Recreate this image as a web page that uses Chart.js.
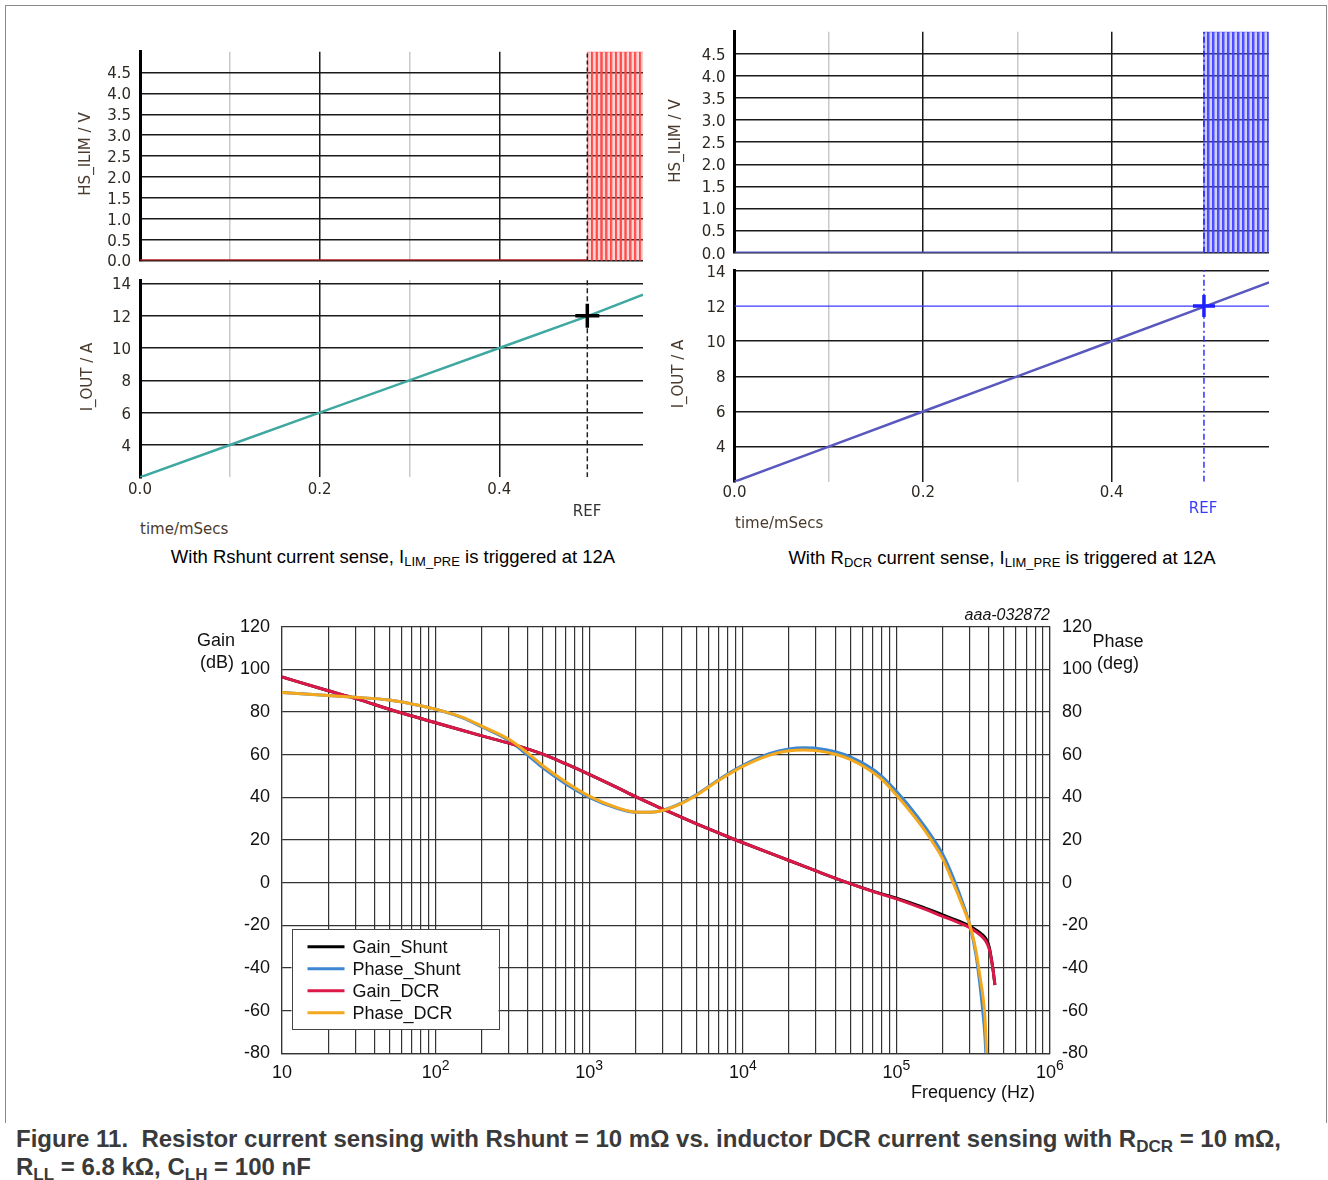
<!DOCTYPE html>
<html>
<head>
<meta charset="utf-8">
<title>Current sensing comparison</title>
<script src="https://cdn.jsdelivr.net/npm/chart.js@4.4.1/dist/chart.umd.min.js"></script>
<style>
  body { margin: 0; background: #fff; }
  #page { position: relative; width: 1328px; height: 1180px; overflow: hidden; background: #fff; }
  #page canvas { position: absolute; }
  .frame { position: absolute; left: 5px; top: 5px; width: 1320px; height: 1117px;
           border: 1px solid #8a8a8a; border-bottom: none; }
  .t { position: absolute; white-space: nowrap; transform: translate(-50%, -50%); }
  .sim { font-family: "DejaVu Sans", Verdana, sans-serif; font-size: 15px; color: #4a3b2e; }
  .rot { transform: translate(-50%, -50%) rotate(-90deg); }
  .arial { font-family: "Liberation Sans", Arial, sans-serif; color: #111; font-size: 18px; }
  .cap { font-size: 18.5px; color: #000; }
  .cap sub { font-size: 13px; vertical-align: -3px; line-height: 0; }
  .fig { position: absolute; left: 16px; top: 1125px; white-space: nowrap; line-height: 28px;
         font: bold 24px "Liberation Sans", Arial, sans-serif; color: #3a3a3a; }
  .fig sub { font-size: 17px; vertical-align: -5px; line-height: 0; }
</style>
</head>
<body>
<div id="page">
  <div class="frame"></div>

  <canvas id="hsShunt"></canvas>
  <canvas id="ioShunt"></canvas>
  <canvas id="hsDcr"></canvas>
  <canvas id="ioDcr"></canvas>
  <canvas id="bode"></canvas>

  <!-- transient plot labels -->
  <div class="t sim rot" style="left:85px; top:154px">HS_ILIM / V</div>
  <div class="t sim rot" style="left:87px; top:377px">I_OUT / A</div>
  <div class="t sim" style="left:587px; top:511px; color:#333">REF</div>
  <div class="t sim" style="left:140px; top:529px; transform:translate(0,-50%)">time/mSecs</div>
  <div class="t arial cap" style="left:393px; top:557px">With Rshunt current sense, I<sub>LIM_PRE</sub> is triggered at 12A</div>

  <div class="t sim rot" style="left:675px; top:141px">HS_ILIM / V</div>
  <div class="t sim rot" style="left:678px; top:374px">I_OUT / A</div>
  <div class="t sim" style="left:1203px; top:508px; color:#3a3aff">REF</div>
  <div class="t sim" style="left:735px; top:523px; transform:translate(0,-50%)">time/mSecs</div>
  <div class="t arial cap" style="left:1002px; top:558px">With R<sub>DCR</sub> current sense, I<sub>LIM_PRE</sub> is triggered at 12A</div>

  <!-- bode plot labels -->
  <div class="t arial" style="left:216px; top:640px">Gain</div>
  <div class="t arial" style="left:217px; top:662px">(dB)</div>
  <div class="t arial" style="left:1118px; top:641px">Phase</div>
  <div class="t arial" style="left:1118px; top:663px">(deg)</div>
  <div class="t arial" style="left:1050px; top:615px; transform:translate(-100%,-50%); font-style:italic; font-size:16px">aaa-032872</div>
  <div class="t arial" style="left:973px; top:1092px">Frequency (Hz)</div>

  <div class="fig">Figure 11.&nbsp; Resistor current sensing with Rshunt = 10 mΩ vs. inductor DCR current sensing with R<sub>DCR</sub> = 10 mΩ,<br>R<sub>LL</sub> = 6.8 kΩ, C<sub>LH</sub> = 100 nF</div>
</div>

<script>
// ---- transient data (time in ms) ----
const timeTicks = [0, 0.1, 0.2, 0.3, 0.4];
const timeTickLabels = ['0.0', '', '0.2', '', '0.4'];
const refTime = 0.498;

const hsTicks = [0, 0.5, 1, 1.5, 2, 2.5, 3, 3.5, 4, 4.5];
const hsHigh = 5.0;
// HS_ILIM pulses once the limit trips
const hsShuntRise = [0.4985, 0.5039, 0.5092, 0.5146, 0.5199, 0.5253, 0.5306, 0.5360, 0.5413, 0.5467, 0.5520, 0.5574];
const hsShuntFall = [0.5027, 0.5081, 0.5134, 0.5188, 0.5241, 0.5295, 0.5348, 0.5402, 0.5455, 0.5509, 0.5562, 0.5616];
const hsDcrRise = [0.4980, 0.5033, 0.5086, 0.5139, 0.5192, 0.5245, 0.5298, 0.5351, 0.5404, 0.5457, 0.5510, 0.5563, 0.5616];
const hsDcrFall = [0.5022, 0.5075, 0.5128, 0.5181, 0.5234, 0.5287, 0.5340, 0.5393, 0.5446, 0.5499, 0.5552, 0.5605, 0.5658];

const ioutTicks = [2, 4, 6, 8, 10, 12, 14];
const tripCurrent = 12;
const rampTimeShunt = [0, 0.1, 0.2, 0.3, 0.4, 0.5, 0.56];
const ioutShunt = [2, 4, 6, 8, 10, 12, 13.3];
const rampTimeDcr = [0, 0.1, 0.2, 0.3, 0.4, 0.5, 0.567];
const ioutDcr = [2, 4, 6, 8, 10, 12, 13.35];

// ---- loop response ----
const gainFreq = [10, 20, 30, 57, 100, 200, 300, 508, 700, 1000, 1500, 2000, 3000, 5000, 7000, 9000,
                  1.5e4, 2e4, 3e4, 4.8e4, 7e4, 1e5, 1.5e5, 2e5, 2.5e5, 2.9e5, 3.3e5, 3.6e5, 3.8e5, 3.95e5,
                  4.05e5, 4.15e5, 4.25e5, 4.38e5];
const gainShunt = [96.4, 90.0, 86.4, 80.0, 75.0, 68.8, 65.4, 60.0, 55.8, 50.8, 44.8, 40.3, 34.6, 27.6, 23.2, 20.0,
                   13.8, 10.4, 5.5, 0.0, -4.0, -7.3, -11.6, -15.1, -17.8, -19.8, -22.2, -24.2, -26.0, -28.4,
                   -31.2, -35.6, -40.5, -48.0];
const gainDcr = [96.4, 90.0, 86.4, 80.0, 75.0, 68.8, 65.4, 60.0, 55.8, 50.8, 44.8, 40.3, 34.6, 27.6, 23.2, 20.0,
                 13.8, 10.4, 5.5, 0.0, -4.1, -7.6, -12.2, -15.8, -18.5, -20.5, -23.0, -25.2, -27.2, -29.5,
                 -32.0, -36.0, -40.5, -48.0];
const phaseFreq = [10, 20, 30, 50, 70, 100, 150, 200, 300, 400, 500, 700, 1000, 1500, 2000, 2500, 3000, 4000, 5000, 7000,
                   1e4, 1.5e4, 2e4, 2.5e4, 3e4, 4e4, 5e4, 6.4e4, 8e4, 1e5, 1.36e5, 1.74e5, 2.04e5, 2.34e5, 2.65e5,
                   3.01e5, 3.3e5, 3.5e5, 3.67e5, 3.77e5, 3.87e5];
const phaseShunt = [89.2, 87.7, 86.9, 85.6, 83.8, 81.3, 77.3, 73.0, 66.6, 59.6, 53.8, 46.4, 40.0, 35.0, 33.0, 33.0, 33.9, 37.4, 41.3, 48.4,
                    55.0, 60.6, 62.7, 63.2, 63.0, 61.4, 59.0, 55.0, 50.0, 42.8, 31.3, 20.5, 12.2, 2.5, -7.8,
                    -20.0, -34.0, -48.0, -62.0, -72.0, -88.0];
const phaseDcr = [89.2, 87.7, 86.9, 85.6, 83.8, 81.3, 77.5, 73.4, 67.2, 60.6, 54.8, 47.3, 40.6, 35.3, 33.1, 33.0, 33.8, 37.2, 41.0, 48.0,
                  54.5, 59.8, 61.8, 62.2, 61.9, 60.2, 57.8, 53.6, 48.5, 41.1, 29.4, 18.5, 10.0, 0.0, -9.5,
                  -20.0, -32.0, -44.0, -54.0, -62.8, -80.0];
const bodeTicks = [-80, -60, -40, -20, 0, 20, 40, 60, 80, 100, 120];
const decadeTicks = [10, 100, 1e3, 1e4, 1e5, 1e6];
const decadeExps = ['', '2', '3', '4', '5', '6'];

// ---- helpers ----
const simFont = { family: '"DejaVu Sans", Verdana, sans-serif', size: 15 };
const simTickColor = '#2e2822';
const xy = (xs, ys) => xs.map((x, i) => ({ x, y: ys[i] }));

function pulseTrace(rises, falls, high) {
  const pts = [];
  rises.forEach((r, i) => {
    pts.push({ x: r, y: 0 }, { x: r, y: high }, { x: falls[i], y: high }, { x: falls[i], y: 0 });
  });
  return pts;
}

function timeGridColor(i) {
  if (i === 0) return 'rgba(0,0,0,0)';
  return timeTickLabels[i] ? '#1a1a1a' : '#c9c9c9';
}

// box = canvas rect on the page, area = wanted plot rect on the page
// (boxes keep >= 20px spare round the plot so tick label padding never moves it)
function transientChart(id, box, area, cfg) {
  const cv = document.getElementById(id);
  cv.width = box.w; cv.height = box.h;
  cv.style.left = box.x + 'px'; cv.style.top = box.y + 'px';
  return new Chart(cv, {
    type: 'line',
    data: { datasets: cfg.datasets },
    options: {
      responsive: false, animation: false, devicePixelRatio: 1,
      layout: { padding: { top: area.t - box.y, right: box.x + box.w - area.r, left: 0, bottom: 0 } },
      plugins: { legend: { display: false }, tooltip: { enabled: false } },
      elements: { point: { radius: 0 }, line: { tension: 0 } },
      scales: {
        x: {
          type: 'linear', min: 0, max: cfg.tMax,
          afterFit: s => { s.height = box.y + box.h - area.b; },
          afterBuildTicks: s => { s.ticks = timeTicks.map(v => ({ value: v })); },
          ticks: { display: cfg.showTime, padding: cfg.xPad || 4, maxRotation: 0, autoSkip: false,
                   font: simFont, color: simTickColor, callback: (v, i) => timeTickLabels[i] },
          grid: { drawTicks: false, lineWidth: 1.5, color: c => timeGridColor(c.index) },
          border: { display: false }
        },
        y: {
          min: cfg.yMin, max: cfg.yMax,
          afterFit: s => { s.width = area.l - box.x; },
          afterBuildTicks: s => { s.ticks = cfg.yTicks.map(v => ({ value: v })); },
          ticks: { padding: 9, labelOffset: 2, autoSkip: false, font: simFont, color: simTickColor, callback: cfg.yLabel },
          grid: { drawTicks: false, lineWidth: 1.5, color: c => cfg.yGrid(c.tick ? c.tick.value : null) },
          border: { color: '#000', width: 3 }
        }
      }
    }
  });
}

// ---- Rshunt transient ----
transientChart('hsShunt', { x: 50, y: 28, w: 615, h: 258 }, { l: 140, t: 51.7, r: 643, b: 260.5 }, {
  tMax: 0.56, yMin: 0, yMax: 5, yTicks: hsTicks, showTime: false,
  yLabel: v => v.toFixed(1), yGrid: () => '#1a1a1a',
  datasets: [
    { data: [{ x: 0, y: 0 }, { x: refTime, y: 0 }], borderColor: '#b01c1c', borderWidth: 2.5 },
    { data: [{ x: refTime, y: 0 }, { x: refTime, y: hsHigh }], borderColor: '#3a1010', borderWidth: 1.5, borderDash: [4, 3] },
    { data: pulseTrace(hsShuntRise, hsShuntFall, hsHigh), borderColor: '#ff4a4a', borderWidth: 1,
      fill: 'origin', backgroundColor: 'rgba(255,90,90,0.26)' }
  ]
});

transientChart('ioShunt', { x: 50, y: 256, w: 615, h: 247 }, { l: 140, t: 280.1, r: 643, b: 477.3 }, {
  tMax: 0.56, yMin: 2, yMax: 14.2, yTicks: ioutTicks, showTime: true, xPad: 4,
  yLabel: v => (v === 2 ? '' : String(v)), yGrid: v => (v === 2 ? 'rgba(0,0,0,0)' : '#1a1a1a'),
  datasets: [
    { data: [{ x: refTime, y: tripCurrent }], showLine: false, pointStyle: 'cross',
      pointRadius: 12, pointBorderWidth: 3.5, pointBorderColor: '#000' },
    { data: xy(rampTimeShunt, ioutShunt), borderColor: '#3fa8a0', borderWidth: 2.5 },
    { data: [{ x: refTime, y: 2 }, { x: refTime, y: 14.2 }], borderColor: '#222', borderWidth: 1.5, borderDash: [5, 3] }
  ]
});

// ---- RDCR transient ----
transientChart('hsDcr', { x: 645, y: 8, w: 645, h: 268 }, { l: 734.5, t: 31.7, r: 1269, b: 252.7 }, {
  tMax: 0.567, yMin: 0, yMax: 5, yTicks: hsTicks, showTime: false,
  yLabel: v => v.toFixed(1), yGrid: () => '#1a1a1a',
  datasets: [
    { data: [{ x: 0, y: 0 }, { x: refTime, y: 0 }], borderColor: '#5454c4', borderWidth: 2.5 },
    { data: [{ x: refTime, y: 0 }, { x: refTime, y: hsHigh }], borderColor: '#1a1aff', borderWidth: 1.5, borderDash: [6, 3, 2, 3] },
    { data: pulseTrace(hsDcrRise, hsDcrFall, hsHigh), borderColor: '#4040ff', borderWidth: 1,
      fill: 'origin', backgroundColor: 'rgba(110,110,255,0.34)' }
  ]
});

transientChart('ioDcr', { x: 645, y: 246, w: 645, h: 262 }, { l: 734.5, t: 270.1, r: 1269, b: 481.7 }, {
  tMax: 0.567, yMin: 2, yMax: 14.05, yTicks: ioutTicks, showTime: true, xPad: 2,
  yLabel: v => (v === 2 ? '' : String(v)),
  yGrid: v => (v === 2 || v === tripCurrent ? 'rgba(0,0,0,0)' : '#1a1a1a'),
  datasets: [
    { data: [{ x: refTime, y: tripCurrent }], showLine: false, pointStyle: 'cross',
      pointRadius: 11, pointBorderWidth: 3.5, pointBorderColor: '#1f1fff' },
    { data: xy(rampTimeDcr, ioutDcr), borderColor: '#5858bf', borderWidth: 2.5 },
    { data: [{ x: 0, y: tripCurrent }, { x: 0.567, y: tripCurrent }], borderColor: '#3a3aff', borderWidth: 1.2 },
    { data: [{ x: refTime, y: 2 }, { x: refTime, y: 14.05 }], borderColor: '#2f2fff', borderWidth: 1.5, borderDash: [6, 3, 2, 3] }
  ]
});

// ---- Bode plot ----
const arialFont = { family: '"Liberation Sans", Arial, sans-serif', size: 18 };
const freqGrid = [];
for (let e = 1; e < 6; e++) for (let m = 1; m < 10; m++) freqGrid.push(m * Math.pow(10, e));
freqGrid.push(1e6);

// "10", "10²" ... drawn with a raised exponent under each decade line
const decadeLabels = {
  id: 'decadeLabels',
  afterDraw(chart) {
    const { ctx } = chart;
    const x = chart.scales.x;
    const y = x.top + 20;
    ctx.save();
    ctx.fillStyle = '#111';
    ctx.textBaseline = 'middle';
    ctx.textAlign = 'left';
    decadeTicks.forEach((v, i) => {
      const px = x.getPixelForValue(v);
      ctx.font = '18px "Liberation Sans", Arial, sans-serif';
      const bw = ctx.measureText('10').width;
      ctx.font = '14px "Liberation Sans", Arial, sans-serif';
      const ew = decadeExps[i] ? ctx.measureText(decadeExps[i]).width : 0;
      const left = px - (bw + ew) / 2;
      ctx.font = '18px "Liberation Sans", Arial, sans-serif';
      ctx.fillText('10', left, y);
      if (decadeExps[i]) {
        ctx.font = '14px "Liberation Sans", Arial, sans-serif';
        ctx.fillText(decadeExps[i], left + bw, y - 7);
      }
    });
    ctx.restore();
  }
};

const bodeLegend = {
  id: 'bodeLegend',
  afterDraw(chart) {
    const { ctx, chartArea: a } = chart;
    const left = a.left + 9.5, top = a.bottom - 124, w = 207, h = 100;
    ctx.save();
    ctx.fillStyle = '#fff';
    ctx.fillRect(left, top, w, h);
    ctx.strokeStyle = '#444';
    ctx.lineWidth = 1;
    ctx.strokeRect(Math.round(left) + 0.5, Math.round(top) + 0.5, w, h);
    ctx.font = '18px "Liberation Sans", Arial, sans-serif';
    ctx.textBaseline = 'middle';
    chart.data.datasets.forEach((d, i) => {
      const y = top + 17.5 + i * 22;
      ctx.strokeStyle = d.borderColor;
      ctx.lineWidth = 3;
      ctx.beginPath();
      ctx.moveTo(left + 16, y);
      ctx.lineTo(left + 53, y);
      ctx.stroke();
      ctx.fillStyle = '#111';
      ctx.fillText(d.label, left + 61, y + 1);
    });
    ctx.restore();
  }
};

(function () {
  const box = { x: 180, y: 595, w: 990, h: 505 };
  const area = { l: 282, t: 626.7, r: 1050, b: 1053.3 };
  const cv = document.getElementById('bode');
  cv.width = box.w; cv.height = box.h;
  cv.style.left = box.x + 'px'; cv.style.top = box.y + 'px';

  const curve = { borderWidth: 3, pointRadius: 0, cubicInterpolationMode: 'monotone', fill: false };
  new Chart(cv, {
    type: 'line',
    data: {
      datasets: [
        { ...curve, label: 'Gain_Shunt', data: xy(gainFreq, gainShunt), borderColor: '#000000', yAxisID: 'y', order: 4 },
        { ...curve, label: 'Phase_Shunt', data: xy(phaseFreq, phaseShunt), borderColor: '#3d86d2', yAxisID: 'y2', order: 3 },
        { ...curve, label: 'Gain_DCR', data: xy(gainFreq, gainDcr), borderColor: '#dc1848', yAxisID: 'y', order: 2 },
        { ...curve, label: 'Phase_DCR', data: xy(phaseFreq, phaseDcr), borderColor: '#f4a81d', yAxisID: 'y2', order: 1 }
      ]
    },
    options: {
      responsive: false, animation: false, devicePixelRatio: 1,
      layout: { padding: { top: area.t - box.y, right: 0, left: 0, bottom: 0 } },
      plugins: { legend: { display: false }, tooltip: { enabled: false } },
      scales: {
        x: {
          type: 'logarithmic', min: 10, max: 1e6,
          afterFit: s => { s.height = box.y + box.h - area.b; },
          afterBuildTicks: s => { s.ticks = freqGrid.map(v => ({ value: v })); },
          ticks: { display: false },
          grid: { drawTicks: false, color: '#333', lineWidth: 1.2 },
          border: { color: '#333', width: 1.2 }
        },
        y: {
          position: 'left', min: -80, max: 120,
          afterFit: s => { s.width = area.l - box.x; },
          afterBuildTicks: s => { s.ticks = bodeTicks.map(v => ({ value: v })); },
          ticks: { padding: 12, font: arialFont, color: '#111', autoSkip: false },
          grid: { drawTicks: false, color: '#333', lineWidth: 1.2 },
          border: { color: '#333', width: 1.2 }
        },
        y2: {
          position: 'right', min: -80, max: 120,
          afterFit: s => { s.width = box.x + box.w - area.r; },
          afterBuildTicks: s => { s.ticks = bodeTicks.map(v => ({ value: v })); },
          ticks: { padding: 12, font: arialFont, color: '#111', autoSkip: false },
          grid: { drawOnChartArea: false, drawTicks: false },
          border: { color: '#333', width: 1.2 }
        }
      }
    },
    plugins: [decadeLabels, bodeLegend]
  });
})();
</script>
</body>
</html>
